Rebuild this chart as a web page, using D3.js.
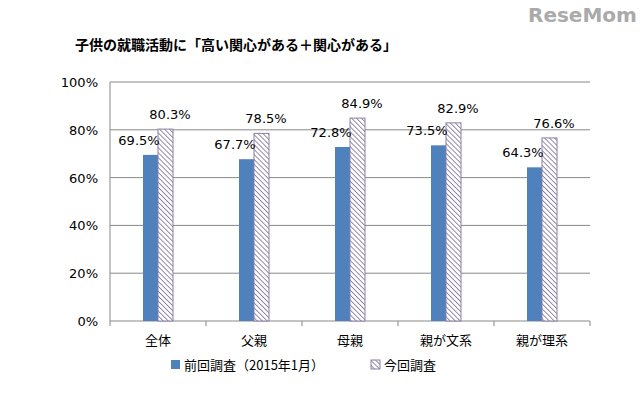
<!DOCTYPE html>
<html><head><meta charset="utf-8">
<script src="https://cdn.jsdelivr.net/npm/d3@7"></script>
<style>body{margin:0;background:#fff;font-family:"Noto Sans CJK JP","DejaVu Sans",sans-serif;}</style>
</head><body><svg id="c" width="640" height="400"></svg>
<script>
const categories = ["全体", "父親", "母親", "親が文系", "親が理系"];
const prev = [69.5, 67.7, 72.8, 73.5, 64.3];
const curr = [80.3, 78.5, 84.9, 82.9, 76.6];
const seriesNames = ["前回調査（2015年1月）", "今回調査"];
const yTicks = [0, 20, 40, 60, 80, 100];

const svg = d3.select("#c");
const defs = svg.append("defs");
const pat = defs.append("pattern").attr("id", "hatch").attr("patternUnits", "userSpaceOnUse")
  .attr("width", 3.5).attr("height", 3.5).attr("patternTransform", "rotate(-45)");
pat.append("rect").attr("width", 3.5).attr("height", 3.5).attr("fill", "#fff");
pat.append("line").attr("x1", 0).attr("y1", 0).attr("x2", 0).attr("y2", 3.5)
  .attr("stroke", "#8a7fa3").attr("stroke-width", 1.8);

svg.append("text").attr("x", 528).attr("y", 22).attr("font-family", "DejaVu Sans")
  .attr("font-weight", "bold").attr("font-size", 20).attr("fill", "#aaa").text("ReseMom");

svg.append("text").attr("x", 75).attr("y", 50).attr("font-size", 14).attr("font-weight", "bold")
  .text("子供の就職活動に「高い関心がある＋関心がある」");

const x = d3.scaleBand().domain(categories).range([110, 590]);
const y = d3.scaleLinear().domain([0, 100]).range([321, 82]);
const bw = 15;

svg.append("g").selectAll("line").data(yTicks).join("line")
  .attr("x1", 110).attr("x2", 590).attr("y1", d => y(d)).attr("y2", d => y(d))
  .attr("stroke", "#888").attr("stroke-width", 1);
svg.append("line").attr("x1", 110).attr("x2", 110).attr("y1", y(0)).attr("y2", y(100)).attr("stroke", "#888");
svg.append("g").selectAll("line").data(categories.concat([""])).join("line")
  .attr("x1", (d, i) => 110 + i * x.bandwidth()).attr("x2", (d, i) => 110 + i * x.bandwidth())
  .attr("y1", y(0)).attr("y2", y(0) + 5).attr("stroke", "#888");

svg.append("g").selectAll("text").data(yTicks).join("text")
  .attr("x", 98).attr("y", d => y(d) + 5).attr("text-anchor", "end").attr("font-size", 13)
  .attr("font-family", "DejaVu Sans").text(d => d + "%");
svg.append("g").selectAll("text").data(categories).join("text")
  .attr("x", d => x(d) + x.bandwidth() / 2).attr("y", 345).attr("text-anchor", "middle")
  .attr("font-size", 13).text(d => d);

const g = svg.append("g");
categories.forEach((c, i) => {
  const cx = x(c) + x.bandwidth() / 2;
  g.append("rect").attr("x", cx - bw).attr("y", y(prev[i])).attr("width", bw)
    .attr("height", y(0) - y(prev[i])).attr("fill", "#4f81bd");
  g.append("rect").attr("x", cx).attr("y", y(curr[i])).attr("width", bw)
    .attr("height", y(0) - y(curr[i])).attr("fill", "url(#hatch)").attr("stroke", "#8a7fa3");
  g.append("text").attr("x", cx - 19).attr("y", y(prev[i]) - 10).attr("text-anchor", "middle")
    .attr("font-size", 13).attr("font-family", "DejaVu Sans").text(prev[i].toFixed(1) + "%");
  g.append("text").attr("x", cx + 12).attr("y", y(curr[i]) - 10).attr("text-anchor", "middle")
    .attr("font-size", 13).attr("font-family", "DejaVu Sans").text(curr[i].toFixed(1) + "%");
});

const lg = svg.append("g");
lg.append("rect").attr("x", 171).attr("y", 360).attr("width", 9).attr("height", 9).attr("fill", "#4f81bd");
lg.append("text").attr("x", 184).attr("y", 370).attr("font-size", 13).text(seriesNames[0]);
lg.append("rect").attr("x", 371).attr("y", 360).attr("width", 9).attr("height", 9)
  .attr("fill", "url(#hatch)").attr("stroke", "#8a7fa3");
lg.append("text").attr("x", 384).attr("y", 370).attr("font-size", 13).text(seriesNames[1]);
</script></body></html>
